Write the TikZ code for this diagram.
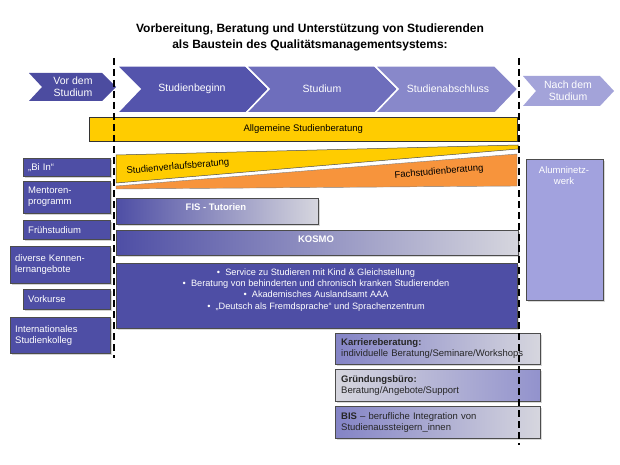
\documentclass[tikz,border=0pt]{standalone}
\usepackage{fontspec}
\setmainfont{Liberation Sans}
\usetikzlibrary{shadows}
\definecolor{bluvor}{RGB}{76,76,160}
\definecolor{blu1}{RGB}{84,84,172}
\definecolor{blu2}{RGB}{110,110,188}
\definecolor{blu3}{RGB}{136,136,202}
\definecolor{blunach}{RGB}{163,163,217}
\definecolor{bluscuro}{RGB}{78,78,165}
\definecolor{lilla}{RGB}{162,162,222}
\definecolor{grigiochiaro}{RGB}{214,214,222}
\definecolor{giallo}{RGB}{255,204,0}
\definecolor{arancio}{RGB}{247,148,60}
\begin{document}
\begin{tikzpicture}[x=1pt,y=-1pt]
    % Stili
    \tikzstyle{testo}=[font=\fontsize{9.5}{11}\selectfont]
    \tikzstyle{fase}=[font=\fontsize{10.5}{12}\selectfont, text=white, align=center, inner sep=0pt]
    \tikzstyle{freccia}=[draw=white, line width=1.5pt]
    \tikzstyle{sinistra}=[rectangle, draw=black!70, fill=bluscuro, text=white, testo, anchor=north west, align=left, inner xsep=5pt, inner ysep=1pt, drop shadow={shadow xshift=1.5pt, shadow yshift=-1.5pt, fill=black!35}]
    \tikzstyle{barra}=[rectangle, draw=black!70, anchor=north west, inner sep=0pt, left color=bluscuro, right color=grigiochiaro, drop shadow={shadow xshift=1.5pt, shadow yshift=-1.5pt, fill=black!30}]
    \tikzstyle{destra}=[rectangle, draw=black!70, testo, text=black!85, anchor=north west, align=left, inner xsep=6pt, inner ysep=1pt, drop shadow={shadow xshift=1.5pt, shadow yshift=-1.5pt, fill=black!30}]
    \tikzstyle{tratteggio}=[black, line width=1.2pt, dash pattern=on 7pt off 4pt]

    \useasboundingbox (0,0) rectangle (620,465);

    % Titolo
    \node[font=\bfseries\fontsize{12}{16}\selectfont, align=center] (titolo) at (310,37) {Vorbereitung, Beratung und Unterstützung von Studierenden\\als Baustein des Qualitätsmanagementsystems:};

    % Fasi dello studio
    \fill[bluvor] (29,73) -- (102,73) -- (116,87) -- (102,101) -- (29,101) -- (42,87) -- cycle;
    \fill[blu1, freccia] (117,66) -- (246,66) -- (269,89) -- (246,113) -- (117,113) -- (140,89) -- cycle;
    \fill[blu2, freccia] (246,66) -- (375,66) -- (398,89) -- (375,113) -- (246,113) -- (269,89) -- cycle;
    \fill[blu3, freccia] (375,66) -- (495,66) -- (518,89) -- (495,113) -- (375,113) -- (398,89) -- cycle;
    \fill[blunach] (523,76) -- (600,76) -- (614,91) -- (600,106) -- (523,106) -- (536,91) -- cycle;
    \node[fase] (vor) at (73,87) {Vor dem\\Studium};
    \node[fase] (beginn) at (192,89) {Studienbeginn};
    \node[fase] (studium) at (322,89) {Studium};
    \node[fase] (abschluss) at (448,89) {Studienabschluss};
    \node[fase] (nach) at (568,91) {Nach dem\\Studium};

    % Beratung
    \node[rectangle, draw=black!80, fill=giallo, testo, anchor=north west, minimum width=428pt, minimum height=24pt, inner sep=0pt] (allgemein) at (89,117) {Allgemeine Studienberatung};
    \filldraw[fill=giallo, draw=black!70, line width=0.5pt] (116,155) -- (518,145) -- (518,149) -- (116,183) -- cycle;
    \filldraw[fill=arancio, draw=black!50, line width=0.4pt] (116,186) -- (517,154) -- (517,186) -- (116,189) -- cycle;
    \node[testo, rotate=5] (verlauf) at (178,167) {Studienverlaufsberatung};
    \node[testo, rotate=5] (fach) at (439,172) {Fachstudienberatung};

    % Angebote vor dem Studium
    \node[sinistra, minimum width=87pt, minimum height=18pt, text width=77pt] (biin) at (23,158) {„Bi In“};
    \node[sinistra, minimum width=87pt, minimum height=32pt, text width=77pt] (mentoren) at (23,181) {Mentoren-\\programm};
    \node[sinistra, minimum width=87pt, minimum height=19pt, text width=77pt] (frueh) at (23,220) {Frühstudium};
    \node[sinistra, minimum width=100pt, minimum height=37pt, text width=90pt] (kennen) at (10,246) {diverse Kennen-\\lernangebote};
    \node[sinistra, minimum width=87pt, minimum height=20pt, text width=77pt] (vorkurse) at (23,289) {Vorkurse};
    \node[sinistra, minimum width=100pt, minimum height=36pt, text width=90pt] (kolleg) at (10,317) {Internationales\\Studienkolleg};

    % Angebote im Studium
    \node[barra, minimum width=202pt, minimum height=26pt] (fis) at (116,198) {};
    \node[testo, font=\bfseries\fontsize{9.5}{11}\selectfont, text=white] (fistext) at (216,207) {FIS - Tutorien};
    \node[barra, minimum width=402pt, minimum height=25pt] (kosmo) at (116,230) {};
    \node[testo, font=\bfseries\fontsize{9.5}{11}\selectfont, text=white] (kosmotext) at (316,239) {KOSMO};
    \node[rectangle, draw=black!70, fill=bluscuro, anchor=north west, minimum width=401pt, minimum height=65pt, inner sep=0pt, drop shadow={shadow xshift=1.5pt, shadow yshift=-1.5pt, fill=black!30}] (service) at (116,263) {};
    \node[text=white, align=center, font=\fontsize{9.2}{11.3}\selectfont, anchor=north] (servicetext) at (316,265) {\textbullet\ \ Service zu Studieren mit Kind \& Gleichstellung\\\textbullet\ \ Beratung von behinderten und chronisch kranken Studierenden\\\textbullet\ \ Akademisches Auslandsamt AAA\\\textbullet\ \ „Deutsch als Fremdsprache“ und Sprachenzentrum};

    % Angebote nach dem Studium
    \node[rectangle, draw=black!70, fill=lilla, anchor=north west, minimum width=77pt, minimum height=141pt, inner sep=0pt, drop shadow={shadow xshift=1.5pt, shadow yshift=-1.5pt, fill=black!30}] (alumni) at (526,159) {};
    \node[testo, text=white, align=center, anchor=north] (alumnitext) at (564,163) {Alumninetz-\\werk};
    \node[destra, minimum width=205pt, minimum height=31pt, text width=193pt, left color=blu2!85, right color=grigiochiaro] (karriere) at (335,333) {\textbf{Karriereberatung:}\\individuelle Beratung/Seminare/Workshops};
    \node[destra, minimum width=205pt, minimum height=32pt, text width=193pt, left color=grigiochiaro, right color=blu2!75] (gruendung) at (335,369) {\textbf{Gründungsbüro:}\\Beratung/Angebote/Support};
    \node[destra, minimum width=205pt, minimum height=32pt, text width=193pt, left color=blu2!85, right color=grigiochiaro] (bis) at (335,406) {\textbf{BIS} – berufliche Integration von\\Studienaussteigern\_innen};

    % Linee tratteggiate
    \draw[tratteggio] (114,58) -- (114,358);
    \draw[tratteggio] (519,58) -- (519,445);
\end{tikzpicture}
\end{document}
